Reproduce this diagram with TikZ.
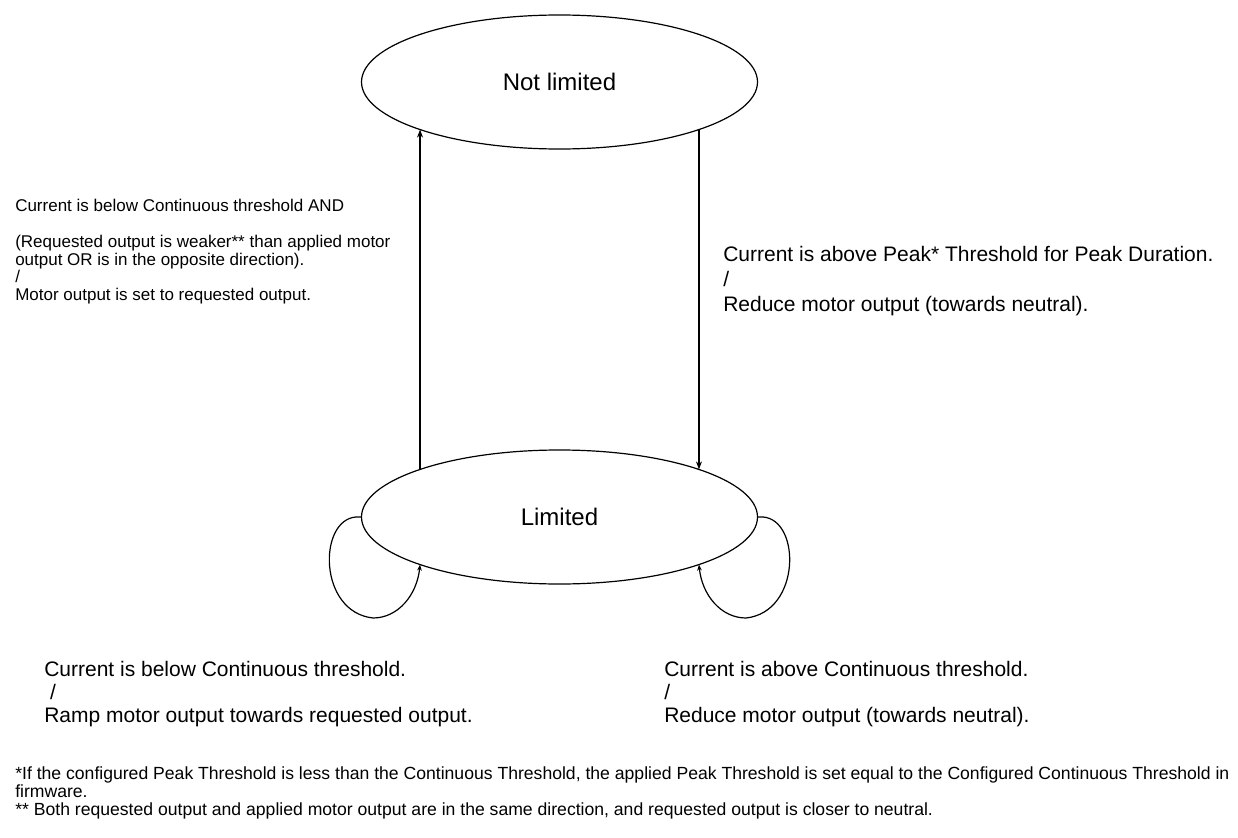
\documentclass[tikz,border=0pt]{standalone}
\usepackage{fontspec}
\setmainfont{Liberation Sans}
\usetikzlibrary{shapes.geometric,arrows.meta}

\begin{document}
\begin{tikzpicture}[x=0.75pt,y=-0.75pt,
	stnode/.style={ellipse, draw=black, line width=0.9pt, minimum width=297pt, minimum height=100.5pt, font=\fontsize{18}{21}\selectfont},
	mainarrow/.style={line width=0.9pt, -{Stealth[length=6pt,width=4.5pt]}},
	looparrow/.style={line width=0.9pt, -{Stealth[length=4.5pt,width=3.5pt]}},
	lbl/.style={inner sep=0pt, anchor=base west, align=left}]
	\useasboundingbox (0,0) rectangle (1238,838);
	\node[stnode] (notlimited) at (559.5,82) {Not limited};
	\node[stnode] (limited) at (559.5,517) {Limited};
	\draw[mainarrow] ([xshift=-104.6pt,yshift=35.7pt]limited.center) -- ([xshift=-104.6pt,yshift=-35.7pt]notlimited.center);
	\draw[mainarrow] ([xshift=104.6pt,yshift=-35.7pt]notlimited.center) -- ([xshift=104.6pt,yshift=35.7pt]limited.center);
	\draw[looparrow] (limited.west) -- ++(-5,0) .. controls (318,520) and (318,612) .. (373,618) .. controls (398,618) and (417,595) .. ([xshift=-104.6pt,yshift=-35.7pt]limited.center);
	\draw[looparrow] (limited.east) -- ++(5,0) .. controls (801,520) and (801,612) .. (746,618) .. controls (721,618) and (702,595) .. ([xshift=104.6pt,yshift=-35.7pt]limited.center);
	% transition labels (anchored at the last line)
	\node[lbl, font=\fontsize{12.75}{13.1}\selectfont] (uplbl) at (15,300) {Current is below Continuous threshold AND\\[13.9pt]
		(Requested output is weaker** than applied motor\\
		output OR is in the opposite direction).\\
		/\\
		Motor output is set to requested output.};
	\node[lbl, font=\fontsize{15.75}{18.4}\selectfont] (downlbl) at (723,311) {Current is above Peak* Threshold for Peak Duration.\\
		/\\
		Reduce motor output (towards neutral).};
	\node[lbl, font=\fontsize{15.75}{17.25}\selectfont] (leftlooplbl) at (44,722) {Current is below Continuous threshold.\\
		\ /\\
		Ramp motor output towards requested output.};
	\node[lbl, font=\fontsize{15.75}{17.25}\selectfont] (rightlooplbl) at (664,722) {Current is above Continuous threshold.\\
		/\\
		Reduce motor output (towards neutral).};
	% footnotes
	\node[lbl, font=\fontsize{13.2}{13.5}\selectfont] (notes) at (15,815) {*If the configured Peak Threshold is less than the Continuous Threshold, the applied Peak Threshold is set equal to the Configured Continuous Threshold in\\
		firmware.\\
		** Both requested output and applied motor output are in the same direction, and requested output is closer to neutral.};
\end{tikzpicture}
\end{document}
